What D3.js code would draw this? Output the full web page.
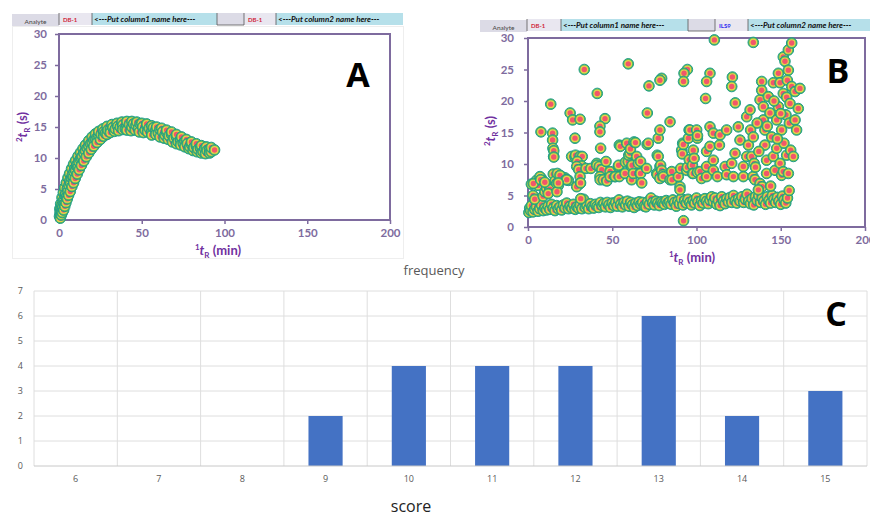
<!DOCTYPE html>
<html>
<head>
<meta charset="utf-8">
<script src="https://cdn.jsdelivr.net/npm/d3@7"></script>
<style>
  body { margin: 0; background: #fff; }
  svg { display: block; font-family: Lato, "Open Sans", sans-serif; }
</style>
</head>
<body>
<svg id="fig" width="870" height="518"></svg>
<script>
// ---- data ----
// panel A: 1tR (min), 2tR (s) on DB-1 x DB-1
const pointsA = [
  [0.3,0.6],[0.6,1.2],[1,0.9],[1.2,1.8],[1.5,1.4],[1.8,2.4],[2.2,2.0],[2.5,3.0],[3,3.3],[3.2,2.6],
  [3.6,3.9],[4,4.2],[4.5,3.7],[5,5.0],[5.4,4.6],[6,5.6],[6.5,6.3],[7,5.9],[7.5,6.8],[8,7.2],
  [8.6,6.9],[9,7.8],[9.5,8.3],[10,8.0],[10.6,8.7],[11,9.0],[11.5,8.5],[12,9.4],[12.8,9.8],[13.5,10.0],
  [14,10.3],[15,10.8],[16,11.1],[17,11.6],[18,11.9],[19,12.3],[20,12.5],[21,12.9],[22,13.1],[23,13.3],
  [24,13.6],[25.5,13.8],[27,14.2],[28,14.0],[29.5,14.5],[31,14.6],[32.5,14.9],[34,14.7],[35.5,15.1],[37,15.0],
  [38.5,15.3],[40,14.7],[41,15.2],[42.5,15.4],[44,15.0],[45,15.5],[46.5,15.3],[48,14.8],[49,15.5],[50.5,15.0],
  [52,14.5],[53,15.2],[54.5,14.8],[56,14.3],[57,14.9],[58.5,14.5],[60,14.0],[61,14.6],[62.5,14.2],[64,13.7],
  [65,14.1],[66.5,13.6],[68,13.8],[69.5,13.2],[71,13.4],[72,12.6],[73.5,12.9],[75,12.4],[76,12.7],[77.5,12.3],
  [79,11.8],[80,12.2],[81.5,11.7],[83,11.9],[84,11.4],[85.5,11.6],[87,11.0],[88,11.5],[89.5,11.2],[91,11.4],
  [92,11.0],[94,11.3],
  // lower edge of the band
  [0.8,0.3],[1.4,0.8],[2,1.2],[2.8,1.6],[3.5,2.2],[4.2,2.8],[5,3.4],[5.8,4.0],[6.8,4.6],[7.8,5.4],
  [8.8,6.0],[9.8,6.7],[11,7.4],[12.2,8.1],[13.5,8.8],[15,9.5],[16.5,10.2],[18,10.8],[19.5,11.4],[21,11.9],
  [23,12.5],[25,13.0],[27,13.5],[29,13.8],[31,14.1],[33.5,14.3],[36,14.4],[38.5,14.6],[41,14.5],[43.5,14.4],
  [46,14.5],[48.5,14.2],[51,14.1],[53.5,14.2],[56,13.7],[58.5,13.8],[61,13.4],[63.5,13.2],[66,13.0],[68.5,12.6],
  [71,12.3],[73.5,12.1],[76,11.8],[78.5,11.5],[81,11.2],[83.5,11.0],[86,10.8],[88.5,10.7],[91,10.8],
  // upper edge of the band
  [0.5,1.8],[1,2.6],[1.8,3.6],[2.6,4.4],[3.4,5.2],[4.4,6.0],[5.4,6.8],[6.4,7.5],[7.6,8.3],[8.8,9.0],
  [10,9.6],[11.5,10.3],[13,10.9],[14.5,11.5],[16,12.1],[18,12.8],[20,13.4],[22,13.9],[24,14.3],[26.5,14.7],
  [29,15.1],[32,15.4],[35,15.6],[38,15.8],[41,15.9],[44,15.9],[47,15.8],[50,15.6],[53,15.5],[56,15.2],
  [59,15.0],[62,14.8],[65,14.5],[68,14.2],[71,13.8],[74,13.4],[77,13.0],[80,12.6],[83,12.3],[86,12.0],
  [89,11.8],[92,11.7]
];

// panel B: 1tR (min), 2tR (s) on DB-1 x ILS9
const pointsB = [
  // lower band
  [0.5,2.3],[1,3.0],[1.5,2.6],[2,3.4],[3,2.4],[4,2.8],[5,3.2],[6,2.5],[7,2.9],[8,3.5],
  [9,2.6],[10,3.0],[11,2.7],[12,3.3],[13,2.8],[14,3.6],[15,3.0],[16,2.6],[17,3.4],[18,2.9],
  [19,3.2],[20,2.7],[21,3.5],[22,3.0],[23,3.8],[24,2.9],[25,3.3],[26,3.0],[27,3.6],[28,2.8],
  [29,3.2],[30,3.0],[31,3.5],[32,2.9],[33,4.4],[34,3.1],[35,3.4],[36,2.9],[37,3.7],[38,3.2],
  [39,3.0],[40,3.6],[41,3.3],[42,3.1],[43,3.9],[44,3.4],[45,3.7],[46,3.2],[47,3.9],[48,3.5],
  [49,3.1],[50,3.8],[51,3.4],[52,3.9],[53,3.3],[54,4.3],[55,3.6],[56,3.2],[57,3.9],[58,3.5],
  [59,4.1],[60,3.3],[61,3.9],[62,3.5],[63,3.1],[64,3.8],[65,3.4],[66,4.0],[67,3.6],[68,3.9],
  [69,3.3],[70,3.2],[71,4.0],[72,3.6],[73,4.6],[74,3.9],[75,3.5],[76,4.1],[77,3.8],[78,3.4],
  [79,4.0],[80,3.8],[81,3.6],[82,4.2],[83,3.8],[84,4.0],[85,3.6],[86,4.3],[87,3.9],[88,3.3],
  [89,4.1],[90,3.7],[91,4.5],[92,3.5],[93,4.2],[94,3.8],[95,4.4],[96,3.9],[97,3.5],[98,4.2],
  [99,3.8],[100,4.6],[101,4.0],[102,3.4],[103,4.2],[104,3.8],[105,4.5],[106,4.1],[107,3.7],[108,4.3],
  [109,4.8],[110,4.0],[111,4.6],[112,3.6],[113,4.2],[114,3.4],[115,4.8],[116,4.1],[117,3.7],[118,4.5],
  [119,4.0],[120,4.7],[121,3.9],[122,5.0],[123,4.2],[124,3.8],[125,4.5],[126,4.1],[127,4.8],[128,3.9],
  [129,4.4],[130,5.2],[131,4.1],[132,3.7],[133,4.5],[134,3.5],[135,4.8],[136,4.2],[137,5.0],[138,3.9],
  [139,4.6],[140,4.1],[141,3.6],[142,4.8],[143,4.2],[144,3.8],[145,5.0],[146,4.4],[147,3.9],[148,4.7],
  [149,4.1],[150,3.6],[151,4.9],[152,4.3],[153,3.8],[154,4.6],[155,5.8],[92.3,1.0],
  // scattered left cluster
  [2,6.8],[3,5.0],[4,4.4],[5,7.4],[6,6.6],[8,7.7],[9,4.9],[10,5.6],[11,6.2],[13,6.0],
  [15,8.4],[16,7.3],[18,6.6],[20,8.0],[22,7.8],[24,7.4],[3.2,6.9],[7.1,8.0],[7.5,7.5],[10,7.1],
  [12,5.3],[17,6.9],[17.2,5.6],[17.4,8.5],[19,8.2],[22.5,7.5],[23,7.5],[18,7.0],
  // mid field
  [7.7,15.1],[14.6,14.9],[14.6,13.8],[14.8,12.5],[15.2,11.2],[15.3,12.1],[15.3,11.1],[27.9,14.1],
  [25.9,11.2],[28,11.1],[28.2,11.4],[30.9,11.2],[32.2,11.2],[29.2,10.4],[31.8,9.7],[28.9,9.6],[30.1,9.1],
  [30.9,8.0],[30.9,6.9],[28.9,6.4],[31.2,7.0],[31.3,4.5],[34.4,9.3],[37.3,9.3],
  [40.8,10.1],[40.8,9.8],[42.3,9.6],[43.8,9.1],[42.7,8.0],[42.8,7.5],[44.7,7.5],[46.3,10.4],[46.8,7.3],
  [48.7,8.8],[48.8,8.0],[51.6,8.0],[51.8,8.0],[53.6,9.6],[53.8,9.8],[54.2,13.0],[54.8,12.8],[54.2,8.0],
  [57.6,8.5],[57.8,10.3],[58.6,13.3],[59.5,10.4],[59.8,11.4],[60.5,11.7],[60.8,12.4],[61.5,9.6],[61.8,9.8],
  [61.5,7.5],[62.5,8.5],[62.9,13.5],[63.8,13.4],[64.5,11.2],[65.5,10.1],[66.5,8.5],[66.8,10.4],[66.8,8.5],
  [67.5,7.0],[70.4,9.3],[70.7,13.1],[71.4,13.3],[76.4,8.5],[76.7,11.4],[76.7,8.3],[77.3,14.1],[77.3,11.2],
  [78.3,15.4],[78.3,9.6],[78.7,9.8],[78.3,7.7],[79.3,9.0],[80.1,8.3],[80.3,8.0],[84.3,7.5],[85.3,8.8],
  [85.5,7.5],[89.2,8.0],[90.2,6.4],[90.2,5.9],[90.6,9.3],[91.2,12.2],[91.6,11.6],[91.8,13.3],[92.2,13.1],
  [94.2,9.0],[94.6,9.5],[95.2,14.1],[95.6,15.4],[95.7,10.7],[96.1,15.4],[97.6,9.8],[97.6,8.5],[98.1,8.5],
  [98.1,12.2],[98.6,10.9],[100.1,15.4],[100.5,14.1],[100.6,8.7],[100.6,14.5],
  [102.1,8.8],[103,7.7],[106,8.0],[106,9.6],[106,12.0],[108,12.8],[108,15.9],[110,14.9],[110,10.6],
  [110,9.0],[112.4,8.0],[114,14.6],[113.6,13.0],[117,9.6],[117.9,15.4],[117.9,8.3],[120.9,10.1],[121.9,8.0],
  [122.9,11.7],[124.8,15.9],[125.8,13.8],[127.8,9.6],[127.8,8.0],[129.8,11.2],[130.8,13.0],[129.8,17.5],
  [131.8,18.6],[132.1,15.4],[133.7,14.3],[132.7,11.2],[134.2,10.1],[133.5,8.0],[134.7,7.5],
  // dense column near end
  [137.7,20.2],[138.7,23.1],[138.7,21.7],[139.7,19.1],[139.7,17.0],[140.6,15.4],[140.6,13.0],[141.6,10.6],
  [141.6,8.5],[142.6,20.7],[143.6,18.1],[144.6,14.3],[145.6,22.9],[145.6,11.2],[146.6,9.0],[147.6,17.0],
  [147.6,12.5],[148.6,19.1],[148.6,24.4],[149.6,22.9],[149.6,10.1],[150.5,15.4],[150.5,8.2],[151.5,27.0],
  [151.5,21.2],[151.9,13.3],[152.5,26.3],[153.1,17.8],[153.5,20.6],[153.5,11.4],[153.9,23.3],[154.5,28.1],
  [154.5,24.9],[155.1,16.5],[155.5,19.6],[155.9,12.2],[156.5,22.3],[156.5,29.2],[157.5,11.2],[158.5,17.0],
  [158.5,21.5],[159.4,15.4],[160.4,18.8],[151.5,8.8],[154.5,8.5],[137.7,6.9],[139,6.4],[136.7,5.9],
  [136,16.5],[137,12.0],[142,16.0],[146,20.0],[150,18.0],[135,9.5],[144,6.5],[148,14.0],
  // top outliers
  [110.6,29.7],[133.7,29.3],[33.4,25.0],[59.5,25.9],[94.6,25.0],[92.6,24.4],[92.3,23.1],[79.3,23.6],
  [78.3,23.3],[71.8,22.4],[41.1,21.2],[13.5,19.5],[108,24.4],[106,23.1],[105.4,20.4],[121.3,23.8],
  [120.9,22.3],[123,19.7],[161.4,22.0],[25,18.1],[26.5,17.0],[30.9,17.1],[45.7,17.2],[42.7,16.0],
  [42.7,15.1],[43.1,12.5],[70.8,18.1],[84.3,16.7]
];

// panel C: histogram
const scores = [6, 7, 8, 9, 10, 11, 12, 13, 14, 15];
const frequency = [0, 0, 0, 2, 4, 4, 4, 6, 2, 3];
const freqTicks = [0, 1, 2, 3, 4, 5, 6, 7];

const tickA = [0, 50, 100, 150, 200];
const tickAy = [0, 5, 10, 15, 20, 25, 30];

const headerA = ['Analyte', 'DB-1', '<---Put column1 name here---', '', 'DB-1', '<---Put column2 name here---'];
const headerB = ['Analyte', 'DB-1', '<---Put column1 name here---', '', 'ILS9', '<---Put column2 name here---'];

// ---- drawing ----
const svg = d3.select('#fig');
const purple = '#7e6b9e';
const titlePurple = '#7030a0';

// header rows that sit above each scatter panel
function header(labels, x0, y0, widths, colColor) {
  const g = svg.append('g').attr('transform', `translate(${x0},${y0})`);
  let x = 0;
  labels.forEach((t, i) => {
    const w = widths[i];
    let fill = '#dcdbe6';
    if (i === 2 || i === 5) fill = '#b6e0ea';
    if (i === 1 || i === 4) fill = '#e9e7f0';
    g.append('rect')
      .attr('x', x).attr('y', i === 0 ? 1 : 0)
      .attr('width', w).attr('height', 12)
      .attr('fill', fill);
    if (i > 0) {
      g.append('line')
        .attr('x1', x).attr('x2', x).attr('y1', 0).attr('y2', 12)
        .attr('stroke', '#555').attr('stroke-width', 0.8);
    }
    if (i === 3) {
      g.append('line')
        .attr('x1', x).attr('x2', x + w).attr('y1', 12).attr('y2', 12)
        .attr('stroke', '#555').attr('stroke-width', 0.8);
    }
    const txt = g.append('text').text(t);
    if (i === 0) {
      txt.attr('x', x + w / 2).attr('y', 11).attr('text-anchor', 'middle')
        .attr('font-size', 6.5).attr('fill', '#444');
    } else if (i === 1 || i === 4) {
      txt.attr('x', x + 4).attr('y', 8.5)
        .attr('font-size', 6).attr('font-weight', 'bold')
        .attr('fill', i === 4 ? colColor : '#d0263a');
    } else {
      txt.attr('x', x + 2).attr('y', 9)
        .attr('font-size', 8).attr('font-weight', 'bold')
        .attr('font-style', 'italic').attr('fill', '#111');
    }
    x += w;
  });
}
header(headerA, 12, 13, [47, 33, 125, 27, 32, 127], '#d0263a');
header(headerB, 480, 19, [47, 34, 127, 27, 33, 122], '#2a2af0');

// faint outline around panel A like the spreadsheet chart area
svg.append('rect')
  .attr('x', 12.5).attr('y', 26.5).attr('width', 391).attr('height', 232)
  .attr('fill', 'none').attr('stroke', '#eeeeee');

function marker(g, pts, x, y) {
  const m = g.selectAll('g.pt')
    .data(pts)
    .enter().append('g')
    .attr('class', 'pt')
    .attr('transform', d => `translate(${x(d[0])},${y(d[1])})`);
  m.append('circle').attr('r', 5.3).attr('fill', '#5db85a').attr('stroke', '#1f9e8a').attr('stroke-width', 1);
  m.append('circle').attr('r', 3.9).attr('fill', '#e4d64c');
  m.append('circle').attr('r', 2.7).attr('fill', '#f2566a');
}

function axisTitle(g, sup, unit, x, y, rotate) {
  const t = g.append('text')
    .attr('text-anchor', 'middle')
    .attr('font-size', 13).attr('font-weight', 'bold')
    .attr('fill', titlePurple)
    .attr('transform', `translate(${x},${y})${rotate ? ' rotate(-90)' : ''}`);
  t.append('tspan').text(sup).attr('font-size', 8).attr('dy', -5);
  t.append('tspan').text('t').attr('font-style', 'italic').attr('dy', 5);
  t.append('tspan').text('R').attr('font-size', 8).attr('dy', 3);
  t.append('tspan').text(` (${unit})`).attr('dy', -3);
}

function scatterPanel(pts, xr, yr, tickLabelX, letter, letterPos, titlePos) {
  const x = d3.scaleLinear().domain([0, 200]).range(xr);
  const y = d3.scaleLinear().domain([0, 30]).range(yr);
  const g = svg.append('g');

  g.append('g')
    .attr('transform', `translate(0,${yr[0]})`)
    .call(d3.axisBottom(x).tickValues(tickA).tickSize(4).tickPadding(5))
    .call(a => a.select('.domain').remove())
    .call(a => a.selectAll('line').attr('stroke', purple).attr('stroke-width', 1.5))
    .call(a => a.selectAll('text').attr('font-size', 11.5).attr('font-weight', 'bold')
      .attr('fill', purple).attr('font-family', 'Lato, sans-serif'));

  g.append('g')
    .attr('transform', `translate(${xr[0]},0)`)
    .call(d3.axisLeft(y).tickValues(tickAy).tickSize(4).tickPadding(tickLabelX))
    .call(a => a.select('.domain').remove())
    .call(a => a.selectAll('line').attr('stroke', purple).attr('stroke-width', 1.5))
    .call(a => a.selectAll('text').attr('font-size', 11.5).attr('font-weight', 'bold')
      .attr('fill', purple).attr('font-family', 'Lato, sans-serif'));

  g.append('rect')
    .attr('x', xr[0]).attr('y', yr[1])
    .attr('width', xr[1] - xr[0]).attr('height', yr[0] - yr[1])
    .attr('fill', 'none').attr('stroke', purple).attr('stroke-width', 2);

  marker(g, pts, x, y);

  g.append('text').text(letter)
    .attr('x', letterPos[0]).attr('y', letterPos[1])
    .attr('text-anchor', 'middle')
    .attr('font-size', 34).attr('font-weight', 'bold')
    .attr('font-family', '"Open Sans", Lato, sans-serif')
    .attr('fill', '#000');

  axisTitle(g, '1', 'min', titlePos[0], titlePos[1], false);
  axisTitle(g, '2', 's', titlePos[2], titlePos[3], true);
}

// panel A markers overlap heavily; draw them left to right
const sortedA = pointsA.slice().sort((a, b) => a[0] - b[0]);
scatterPanel(sortedA, [59, 390], [220, 34], 8, 'A', [358, 87], [218, 255, 27, 127]);
scatterPanel(pointsB, [528, 865], [227, 38], 10, 'B', [838, 83], [692, 262, 495, 131]);

// ---- panel C ----
const gc = svg.append('g');
const xC = d3.scaleBand().domain(scores).range([34, 867]).paddingInner(0.59).paddingOuter(0.295);
const xGrid = d3.scaleBand().domain(scores).range([34, 867]);
const yC = d3.scaleLinear().domain([0, 7]).range([466, 291]);

gc.append('g')
  .selectAll('line.h')
  .data(freqTicks.slice(1))
  .enter().append('line')
  .attr('x1', 34).attr('x2', 867)
  .attr('y1', d => yC(d)).attr('y2', d => yC(d))
  .attr('stroke', '#dedede');

gc.append('g')
  .selectAll('line.v')
  .data(scores.map(s => xGrid(s)).concat([867]))
  .enter().append('line')
  .attr('x1', d => d).attr('x2', d => d)
  .attr('y1', yC(7)).attr('y2', yC(0))
  .attr('stroke', '#dedede');

gc.append('g')
  .selectAll('rect')
  .data(scores.map((s, i) => ({ s, f: frequency[i] })))
  .enter().append('rect')
  .attr('x', d => xC(d.s))
  .attr('width', xC.bandwidth())
  .attr('y', d => yC(d.f))
  .attr('height', d => yC(0) - yC(d.f))
  .attr('fill', '#4472c4');

gc.append('line')
  .attr('x1', 34).attr('x2', 867).attr('y1', yC(0)).attr('y2', yC(0))
  .attr('stroke', '#c8c8c8');

gc.append('g')
  .attr('transform', `translate(0,${yC(0)})`)
  .call(d3.axisBottom(xGrid).tickSize(0).tickPadding(10))
  .call(a => a.select('.domain').remove())
  .call(a => a.selectAll('text').attr('font-size', 9).attr('fill', '#595959')
    .attr('font-family', '"Liberation Sans Narrow", "Open Sans", sans-serif'));

gc.append('g')
  .attr('transform', 'translate(34,0)')
  .call(d3.axisLeft(yC).tickValues(freqTicks).tickFormat(d3.format('d')).tickSize(0).tickPadding(11))
  .call(a => a.select('.domain').remove())
  .call(a => a.selectAll('text').attr('font-size', 9).attr('fill', '#595959')
    .attr('font-family', '"Liberation Sans Narrow", "Open Sans", sans-serif'));

gc.append('text').text('frequency')
  .attr('x', 434).attr('y', 275).attr('text-anchor', 'middle')
  .attr('font-size', 13).attr('fill', '#595959')
  .attr('font-family', '"Open Sans", sans-serif');

gc.append('text').text('score')
  .attr('x', 411).attr('y', 512).attr('text-anchor', 'middle')
  .attr('font-size', 16).attr('fill', '#222')
  .attr('font-family', '"Open Sans", sans-serif');

gc.append('text').text('C')
  .attr('x', 836).attr('y', 326).attr('text-anchor', 'middle')
  .attr('font-size', 34).attr('font-weight', 'bold')
  .attr('font-family', '"Open Sans", sans-serif');
</script>
</body>
</html>
